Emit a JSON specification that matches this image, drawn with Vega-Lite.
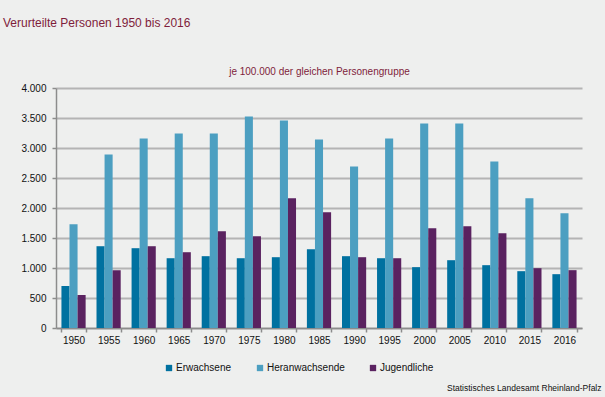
{
  "$schema": "https://vega.github.io/schema/vega-lite/v6.json",
  "width": 526,
  "height": 240,
  "autosize": {"type": "none"},
  "padding": {"left": 56, "top": 88, "right": 23, "bottom": 69},
  "background": "#eeefee",
  "title": {
    "text": "Verurteilte Personen 1950 bis 2016",
    "anchor": "start",
    "frame": "group",
    "dx": -53,
    "offset": 24,
    "baseline": "bottom",
    "font": "Liberation Sans",
    "fontSize": 12,
    "fontWeight": "normal",
    "color": "#7f1d3b"
  },
  "data": {
    "values": [
      {"year": "1950", "group": "Erwachsene", "value": 700},
      {"year": "1950", "group": "Heranwachsende", "value": 1730},
      {"year": "1950", "group": "Jugendliche", "value": 550},
      {"year": "1955", "group": "Erwachsene", "value": 1363},
      {"year": "1955", "group": "Heranwachsende", "value": 2892},
      {"year": "1955", "group": "Jugendliche", "value": 964},
      {"year": "1960", "group": "Erwachsene", "value": 1330},
      {"year": "1960", "group": "Heranwachsende", "value": 3158},
      {"year": "1960", "group": "Jugendliche", "value": 1363},
      {"year": "1965", "group": "Erwachsene", "value": 1163},
      {"year": "1965", "group": "Heranwachsende", "value": 3241},
      {"year": "1965", "group": "Jugendliche", "value": 1263},
      {"year": "1970", "group": "Erwachsene", "value": 1197},
      {"year": "1970", "group": "Heranwachsende", "value": 3241},
      {"year": "1970", "group": "Jugendliche", "value": 1612},
      {"year": "1975", "group": "Erwachsene", "value": 1163},
      {"year": "1975", "group": "Heranwachsende", "value": 3523},
      {"year": "1975", "group": "Jugendliche", "value": 1529},
      {"year": "1980", "group": "Erwachsene", "value": 1180},
      {"year": "1980", "group": "Heranwachsende", "value": 3457},
      {"year": "1980", "group": "Jugendliche", "value": 2161},
      {"year": "1985", "group": "Erwachsene", "value": 1313},
      {"year": "1985", "group": "Heranwachsende", "value": 3141},
      {"year": "1985", "group": "Jugendliche", "value": 1928},
      {"year": "1990", "group": "Erwachsene", "value": 1197},
      {"year": "1990", "group": "Heranwachsende", "value": 2692},
      {"year": "1990", "group": "Jugendliche", "value": 1180},
      {"year": "1995", "group": "Erwachsene", "value": 1163},
      {"year": "1995", "group": "Heranwachsende", "value": 3158},
      {"year": "1995", "group": "Jugendliche", "value": 1163},
      {"year": "2000", "group": "Erwachsene", "value": 1014},
      {"year": "2000", "group": "Heranwachsende", "value": 3407},
      {"year": "2000", "group": "Jugendliche", "value": 1662},
      {"year": "2005", "group": "Erwachsene", "value": 1130},
      {"year": "2005", "group": "Heranwachsende", "value": 3407},
      {"year": "2005", "group": "Jugendliche", "value": 1695},
      {"year": "2010", "group": "Erwachsene", "value": 1047},
      {"year": "2010", "group": "Heranwachsende", "value": 2776},
      {"year": "2010", "group": "Jugendliche", "value": 1579},
      {"year": "2015", "group": "Erwachsene", "value": 947},
      {"year": "2015", "group": "Heranwachsende", "value": 2161},
      {"year": "2015", "group": "Jugendliche", "value": 997},
      {"year": "2016", "group": "Erwachsene", "value": 897},
      {"year": "2016", "group": "Heranwachsende", "value": 1911},
      {"year": "2016", "group": "Jugendliche", "value": 964}
    ]
  },
  "mark": {"type": "bar"},
  "encoding": {
    "x": {
      "field": "year",
      "type": "nominal",
      "sort": null,
      "scale": {"paddingInner": 0.31, "paddingOuter": 0.155},
      "axis": {
        "title": "Statistisches Landesamt Rheinland-Pfalz",
        "titleFont": "Liberation Sans",
        "titleFontSize": 8.5,
        "titleFontWeight": "normal",
        "titleColor": "#111111",
        "titleAnchor": null,
        "titleAlign": "right",
        "titleBaseline": "middle",
        "titleX": 545,
        "titleY": 59,
        "labelAngle": 0,
        "labelFont": "Liberation Sans",
        "labelFontSize": 10,
        "labelColor": "#111111",
        "labelPadding": 3,
        "tickBand": "extent",
        "tickSize": 4,
        "tickColor": "#8c8c8c",
        "tickWidth": 1.5,
        "domainColor": "#8c8c8c",
        "domainWidth": 1.5,
        "grid": false
      }
    },
    "xOffset": {
      "field": "group",
      "type": "nominal",
      "sort": ["Erwachsene", "Heranwachsende", "Jugendliche"],
      "scale": {"paddingInner": 0, "paddingOuter": 0}
    },
    "y": {
      "field": "value",
      "type": "quantitative",
      "scale": {"domain": [0, 4000], "nice": false},
      "axis": {
        "values": [0, 500, 1000, 1500, 2000, 2500, 3000, 3500, 4000],
        "labelExpr": "replace(format(datum.value, ',d'), ',', '.')",
        "title": "je 100.000 der gleichen Personengruppe",
        "titleFont": "Liberation Sans",
        "titleFontSize": 10,
        "titleFontWeight": "normal",
        "titleColor": "#7f1d3b",
        "titleAngle": 0,
        "titleAlign": "center",
        "titleBaseline": "middle",
        "titleX": 263,
        "titleY": -17,
        "labelFont": "Liberation Sans",
        "labelFontSize": 10,
        "labelColor": "#111111",
        "labelPadding": 6,
        "tickSize": 4,
        "tickColor": "#8c8c8c",
        "tickWidth": 1.5,
        "domainColor": "#8c8c8c",
        "domainWidth": 1.5,
        "grid": true,
        "gridColor": "#b4b4b4",
        "gridWidth": 2
      }
    },
    "color": {
      "field": "group",
      "type": "nominal",
      "sort": ["Erwachsene", "Heranwachsende", "Jugendliche"],
      "scale": {
        "domain": ["Erwachsene", "Heranwachsende", "Jugendliche"],
        "range": ["#0071a0", "#4c9fc1", "#5a2260"]
      },
      "legend": {
        "title": null,
        "orient": "none",
        "direction": "horizontal",
        "legendX": 108,
        "legendY": 275,
        "symbolType": "square",
        "symbolSize": 40,
        "symbolStrokeWidth": 0,
        "labelFont": "Liberation Sans",
        "labelFontSize": 10,
        "labelColor": "#111111",
        "labelOffset": 2,
        "columnPadding": 23
      }
    }
  },
  "config": {
    "view": {"stroke": null}
  }
}
